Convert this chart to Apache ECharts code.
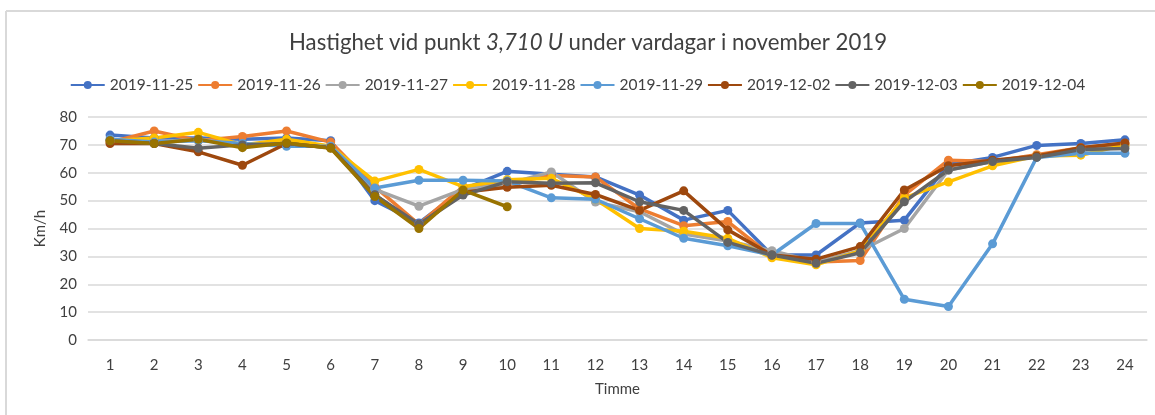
<!DOCTYPE html>
<html>
<head>
<meta charset="utf-8">
<script src="https://cdn.jsdelivr.net/npm/echarts@6/dist/echarts.min.js"></script>
<style>
html,body{margin:0;padding:0;background:#fff;}
#c{width:1155px;height:415px;}
</style>
</head>
<body>
<div id="c"></div>
<script>
const hours = ['1','2','3','4','5','6','7','8','9','10','11','12','13','14','15','16','17','18','19','20','21','22','23','24'];
const seriesNames = ['2019-11-25','2019-11-26','2019-11-27','2019-11-28','2019-11-29','2019-12-02','2019-12-03','2019-12-04'];
const d20191125 = [73.5, 72.5, 72.5, 72, 72.5, 71.5, 50, 42, 54, 60.5, 59.5, 58.5, 52, 43, 46.5, 30.5, 30.5, 42, 43, 63, 65.5, 69.8, 70.5, 71.8];
const d20191126 = [71, 75, 71.5, 73, 75, 71, 55, 41.5, 55, 56, 59, 58.5, 47, 41, 42.5, 30, 28, 28.5, 52, 64.5, 64, 66.5, 69, 70.5];
const d20191127 = [72, 71, 72, 70, 71, 69.5, 54, 48, 54, 56, 60.3, 49.5, 46, 38, 35.5, 32, 28, 32, 40, 61, 64, 66, 68, 69.5];
const d20191128 = [71.5, 72.5, 74.5, 70, 72, 69.5, 57, 61.2, 55, 57.5, 58, 50.5, 40, 39, 36.5, 29.5, 27, 32, 51, 56.7, 62.5, 66, 66.3, 70];
const d20191129 = [72, 71, 71.5, 70.5, 69.5, 69.5, 54.5, 57.3, 57.3, 57, 51, 50.5, 43.5, 36.5, 33.8, 30.5, 41.8, 41.8, 14.6, 12, 34.5, 65.5, 67, 67];
const d20191202 = [70.5, 70.5, 67.5, 62.7, 70.5, 69, 52, 41, 53, 54.8, 55.5, 52.2, 46.5, 53.5, 39.5, 30.5, 29, 33.5, 53.8, 62.5, 64.5, 66, 69, 70.7];
const d20191203 = [71.5, 70.5, 68.8, 70, 70.5, 69, 52, 41.5, 52, 56.8, 56.2, 56.4, 49.6, 46.5, 35, 30.5, 27.5, 31.3, 49.6, 61, 64, 65.5, 68.3, 68.7];
const d20191204 = [71.5, 70.5, 72, 69, 70.7, 68.8, 51.5, 40, 53.8, 47.8, null, null, null, null, null, null, null, null, null, null, null, null, null, null];
const yTicks = [0,10,20,30,40,50,60,70,80];
const colors = ['#4472C4','#ED7D31','#A5A5A5','#FFC000','#5B9BD5','#9E480E','#636363','#997300'];
const allData = [d20191125,d20191126,d20191127,d20191128,d20191129,d20191202,d20191203,d20191204];

const FONT = 'Lato';
const chart = echarts.init(document.getElementById('c'));
chart.setOption({
  animation:false,
  color: colors,
  textStyle:{fontFamily:FONT},
  title:{
    text:'{n|Hastighet vid punkt }{i|3,710 U}{n| under vardagar i november 2019}',
    left:284, top:27,
    textStyle:{fontWeight:'normal',rich:{
      n:{fontFamily:FONT,fontSize:22.2,color:'#404040',fontWeight:'normal'},
      i:{fontFamily:FONT,fontSize:22.2,color:'#404040',fontStyle:'italic',fontWeight:'normal'}
    }}
  },
  legend:{
    top:72, left:'center', itemWidth:34, itemHeight:10, itemGap:4,
    textStyle:{fontFamily:FONT,fontSize:15.5,color:'#404040'},
    data: seriesNames
  },
  graphic:[
    {type:'line',shape:{x1:6,y1:11,x2:1155,y2:11},style:{stroke:'#d9d9d9',lineWidth:2},silent:true},
    {type:'line',shape:{x1:6,y1:11,x2:6,y2:415},style:{stroke:'#d9d9d9',lineWidth:2},silent:true}
  ],
  grid:{left:88,right:8,top:117,bottom:75,containLabel:false},
  xAxis:{
    type:'category', data:hours, boundaryGap:true,
    name:'Timme', nameLocation:'middle', nameGap:42,
    nameTextStyle:{fontFamily:FONT,fontSize:15,color:'#404040'},
    axisLine:{lineStyle:{color:'#d9d9d9',width:1.5}},
    axisTick:{show:false},
    axisLabel:{fontFamily:FONT,fontSize:15,color:'#404040',margin:18}
  },
  yAxis:{
    type:'value', min:0, max:80, interval:10,
    name:'Km/h', nameLocation:'middle', nameGap:40, nameRotate:90,
    nameTextStyle:{fontFamily:FONT,fontSize:15,color:'#404040'},
    axisLine:{show:false}, axisTick:{show:false},
    axisLabel:{fontFamily:FONT,fontSize:15,color:'#404040',margin:11},
    splitLine:{lineStyle:{color:'#d9d9d9',width:1.5}}
  },
  series: seriesNames.map((n,i)=>({
    name:n, type:'line', data:allData[i],
    symbol:'circle', symbolSize:9,
    lineStyle:{width:3.5, color:colors[i]},
    itemStyle:{color:colors[i]},
    connectNulls:false
  }))
});
</script>
</body>
</html>
